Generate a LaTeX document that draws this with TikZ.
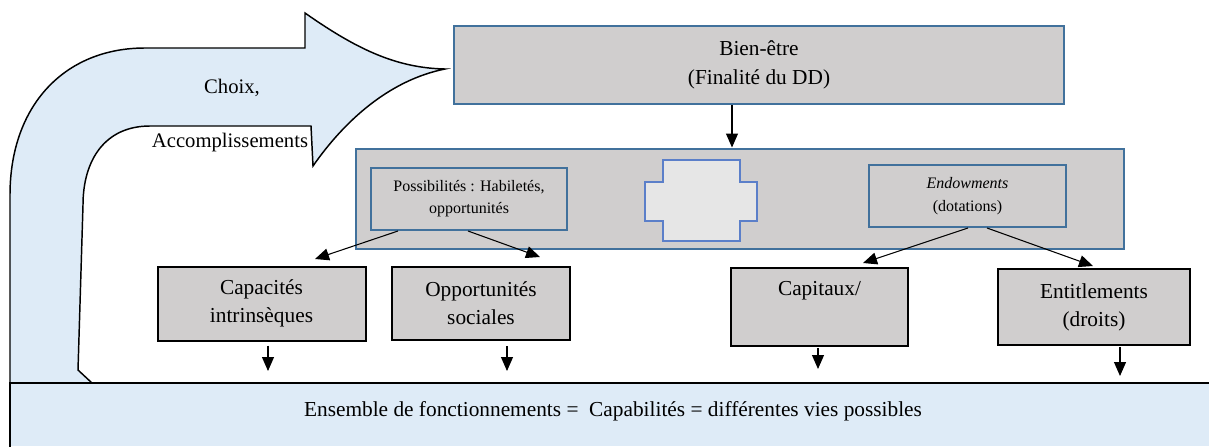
\documentclass[tikz,border=0pt]{standalone}
\usepackage{fontspec}
\setmainfont{Liberation Serif}
\usetikzlibrary{arrows.meta,calc}
\definecolor{boxgray}{HTML}{D0CECE}
\definecolor{steel}{HTML}{41719C}
\definecolor{paleblue}{HTML}{DEEBF7}
\definecolor{crossfill}{HTML}{E6E6E6}
\definecolor{crossline}{HTML}{5B7FC9}
\begin{document}
\begin{tikzpicture}[x=0.75pt,y=-0.75pt,
  bluebox/.style={draw=steel,line width=1.5pt,fill=boxgray,inner sep=0pt,align=center},
  blackbox/.style={draw=black,line width=1.5pt,fill=boxgray,inner sep=0pt,align=center,
    font=\fontsize{16}{21}\selectfont},
  arr/.style={-{Triangle[length=10.5pt,width=9pt]},line width=0.8pt},
  lbl/.style={inner sep=0pt,align=center}]
\useasboundingbox (0,0) rectangle (1209,446);

% large curved arrow (choices)
\draw[fill=paleblue,line width=1.1pt,line join=miter]
  (10,383) -- (10,195) .. controls (10,105) and (65,48) .. (145,48)
  -- (305,48) -- (305,13) .. controls (355,48) and (395,68) .. (445,69)
  .. controls (390,80) and (345,120) .. (313,166) -- (311,126) -- (150,126)
  .. controls (105,126) and (83,160) .. (83,205) -- (78,370) -- (92,383) -- cycle;
\node[lbl,font=\fontsize{15.5}{18}\selectfont] (choix) at (232,88) {Choix,};
\node[lbl,font=\fontsize{15.5}{18}\selectfont] (accomp) at (230,143) {Accomplissements};

% bottom band
\node[fill=paleblue,inner sep=0pt,minimum width=1199*0.75pt,minimum height=63*0.75pt,
  anchor=north west] (band) at (10,383) {};
\draw[line width=1.2pt] (band.south west) -- (band.north west) -- (band.north east);
\node[lbl,font=\fontsize{16}{20}\selectfont] (bandtext) at (613,411)
  {Ensemble de fonctionnements =\ \ Capabilités = différentes vies possibles};

% well-being box
\node[bluebox,minimum width=610*0.75pt,minimum height=78*0.75pt,
  font=\fontsize{16}{22}\selectfont] (bien) at (759,65) {Bien-être\\(Finalité du DD)};

% middle container
\node[bluebox,minimum width=768*0.75pt,minimum height=100*0.75pt] (outer) at (740,198.5) {};
\node[bluebox,minimum width=196*0.75pt,minimum height=62*0.75pt,
  font=\fontsize{12}{16.5}\selectfont] (poss) at (469,199)
  {Possibilités : Habiletés,\\opportunités};
\node[bluebox,minimum width=197*0.75pt,minimum height=62*0.75pt,
  font=\fontsize{12}{17}\selectfont] (endow) at (967.5,196)
  {\textit{Endowments}\\(dotations)};
\draw[draw=crossline,fill=crossfill,line width=0.9pt]
  (663,160) -- (740,160) -- (740,182) -- (757,182) -- (757,221) -- (740,221)
  -- (740,241) -- (663,241) -- (663,221) -- (645,221) -- (645,182) -- (663,182) -- cycle;

% bottom boxes
\node[blackbox,minimum width=208*0.75pt,minimum height=74*0.75pt] (cap) at (261.5,303.5)
  {Capacités\\intrinsèques};
\node[blackbox,minimum width=178*0.75pt,minimum height=73*0.75pt] (opp) at (481,303.5)
  {Opportunités\\sociales};
\node[blackbox,minimum width=177*0.75pt,minimum height=78*0.75pt] (capit) at (819.5,307)
  {Capitaux/\\\strut};
\node[blackbox,minimum width=192*0.75pt,minimum height=76*0.75pt] (entit) at (1094,307)
  {Entitlements\\(droits)};

% connectors
\coordinate (xb) at (732,0);
\draw[arr] (bien.south -| xb) -- (outer.north -| xb);

\coordinate (t1) at (315,259);
\coordinate (t2) at (540,257);
\coordinate (t3) at (863,263);
\coordinate (t4) at (1093,266);
\coordinate (s1) at (398,0);
\coordinate (s2) at (468,0);
\coordinate (s3) at (968,0);
\coordinate (s4) at (987,0);
\draw[arr] (poss.south -| s1) -- (t1);
\draw[arr] (poss.south -| s2) -- (t2);
\draw[arr] (endow.south -| s3) -- (t3);
\draw[arr] (endow.south -| s4) -- (t4);

\coordinate (d1) at (268,371);
\coordinate (d2) at (507,371);
\coordinate (d3) at (818,369);
\coordinate (d4) at (1120,376);
\draw[arr] ($(cap.south -| d1)+(0,4)$) -- (d1);
\draw[arr] ($(opp.south -| d2)+(0,5)$) -- (d2);
\draw[arr] ($(capit.south -| d3)+(0,1)$) -- (d3);
\draw[arr] ($(entit.south -| d4)+(0,1)$) -- (d4);
\end{tikzpicture}
\end{document}
